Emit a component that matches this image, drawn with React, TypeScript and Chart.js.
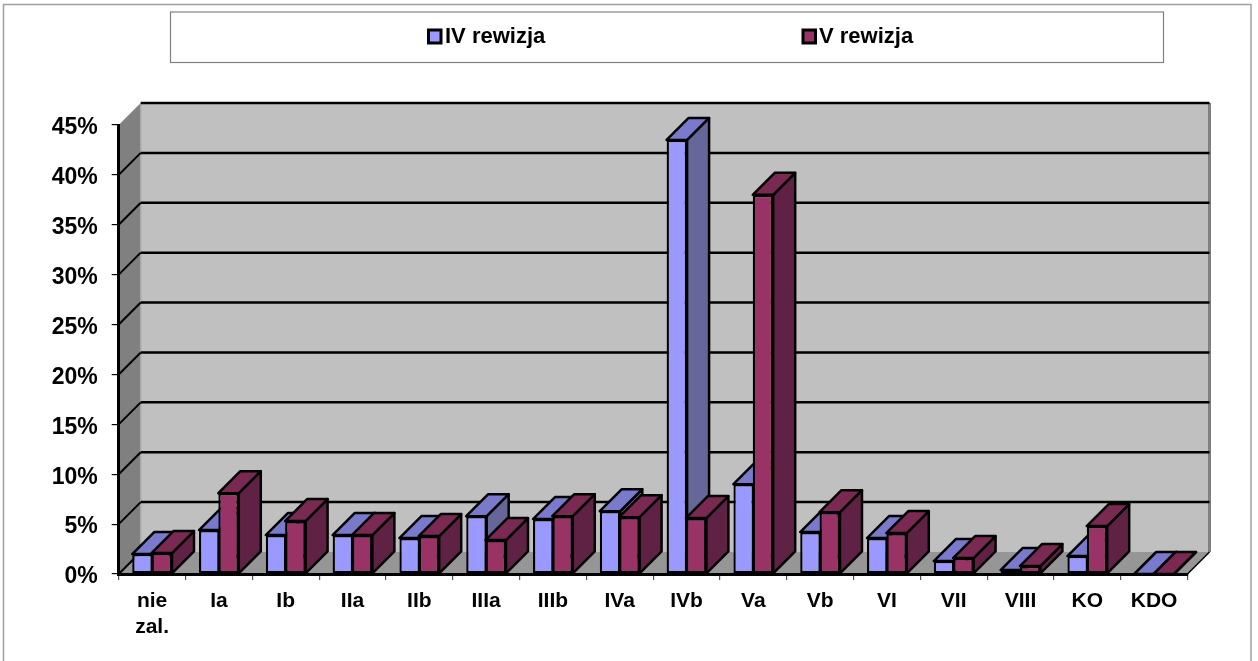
import React, { useEffect, useRef } from "react";
import { Chart, registerables } from "chart.js";

Chart.register(...registerables);

const categories: (string | string[])[] = [["nie", "zal."], "Ia", "Ib", "IIa", "IIb", "IIIa", "IIIb", "IVa", "IVb", "Va", "Vb", "VI", "VII", "VIII", "KO", "KDO"];
const rewizja4 = [2.0, 4.4, 3.9, 3.9, 3.6, 5.8, 5.5, 6.3, 43.5, 9.0, 4.2, 3.6, 1.3, 0.4, 1.8, 0];
const rewizja5 = [2.1, 8.1, 5.3, 3.9, 3.8, 3.4, 5.8, 5.7, 5.6, 38.0, 6.2, 4.1, 1.6, 0.8, 4.8, 0];
const seriesNames = ["IV rewizja", "V rewizja"];
const frontColors = ["#9999FF", "#993366"];
const topColors = ["#7A7ACC", "#7A2952"];
const sideColors = ["#666699", "#602244"];

const FONT = "'Liberation Sans', Arial, sans-serif";
const DEPTH = 22;

const poly = (ctx: CanvasRenderingContext2D, pts: number[][], fill: string | null, stroke: string | null, lw = 2.5) => {
  ctx.beginPath();
  pts.forEach((p, i) => (i ? ctx.lineTo(p[0], p[1]) : ctx.moveTo(p[0], p[1])));
  ctx.closePath();
  if (fill) {
    ctx.fillStyle = fill;
    ctx.fill();
  }
  if (stroke) {
    ctx.strokeStyle = stroke;
    ctx.lineWidth = lw;
    ctx.lineJoin = "round";
    ctx.stroke();
  }
};

const line = (ctx: CanvasRenderingContext2D, x1: number, y1: number, x2: number, y2: number, color: string, lw: number) => {
  ctx.beginPath();
  ctx.moveTo(x1, y1);
  ctx.lineTo(x2, y2);
  ctx.strokeStyle = color;
  ctx.lineWidth = lw;
  ctx.stroke();
};

const framePlugin = {
  id: "frame3d",
  beforeDraw(chart: any) {
    const { ctx, width, height } = chart;
    // the value labels sit a little lower than their tick marks
    const items = chart.scales.y.getLabelItems();
    if (!chart.$labelsShifted || chart.$labelItems !== items) {
      items.forEach((it: any) => {
        it.options.translation = [it.options.translation[0], it.options.translation[1] + 3];
      });
      chart.$labelsShifted = true;
      chart.$labelItems = items;
    }
    ctx.save();
    ctx.fillStyle = "#ffffff";
    ctx.fillRect(0, 0, width, height);
    // outer frame
    ctx.beginPath();
    ctx.moveTo(3.5, height);
    ctx.lineTo(3.5, 4.5);
    ctx.lineTo(1251, 4.5);
    ctx.lineTo(1251, height);
    ctx.strokeStyle = "#a0a0a0";
    ctx.lineWidth = 1.5;
    ctx.stroke();
    // legend box
    ctx.strokeStyle = "#808080";
    ctx.lineWidth = 1.2;
    ctx.strokeRect(170.5, 12, 993, 50.5);
    // legend entries
    const markerX = [428.5, 803];
    const textX = [445, 819];
    chart.data.datasets.forEach((ds: any, i: number) => {
      ctx.fillStyle = ds.backgroundColor;
      ctx.fillRect(markerX[i], 30, 12.5, 13);
      ctx.strokeStyle = "#000000";
      ctx.lineWidth = 3;
      ctx.strokeRect(markerX[i], 30, 12.5, 13);
      ctx.fillStyle = "#000000";
      ctx.font = `bold 22px ${FONT}`;
      ctx.textAlign = "left";
      ctx.textBaseline = "middle";
      ctx.fillText(ds.label, textX[i], 37);
    });
    ctx.restore();
  },
  beforeDatasetsDraw(chart: any) {
    const { ctx, chartArea: a, scales } = chart;
    const y = scales.y;
    const backL = a.left + DEPTH;
    const backR = a.right + DEPTH;
    const backT = a.top - DEPTH;
    const backB = a.bottom - DEPTH;
    ctx.save();
    poly(ctx, [[backL, backT], [backR, backT], [backR, backB], [backL, backB]], "#C0C0C0", null);
    poly(ctx, [[a.left, a.top], [backL, backT], [backL, backB], [a.left, a.bottom]], "#808080", null);
    poly(ctx, [[a.left, a.bottom], [backL, backB], [backR, backB], [a.right, a.bottom]], "#969696", null);
    line(ctx, backR, backT, backR, backB, "#808080", 3);
    line(ctx, backL, backT, backL, backB, "#a8a8a8", 1.5);
    (y.ticks as any[]).forEach((t) => {
      const py = y.getPixelForValue(t.value);
      if (t.value > 0 && t.value < 45) {
        line(ctx, a.left, py, backL, py - DEPTH, "#000000", 2);
        line(ctx, backL, py - DEPTH, backR, py - DEPTH, "#000000", 2.5);
      }
    });
    line(ctx, backL, backT, backR, backT, "#000000", 2.5);
    line(ctx, a.left, a.bottom, backL, backB, "#000000", 2);
    line(ctx, a.right, a.bottom, backR, backB, "#000000", 1.5);
    ctx.restore();
  },
  beforeDatasetDraw() {
    // bars are painted together afterwards, first series behind the second
    return false;
  },
  afterDatasetsDraw(chart: any) {
    const { ctx } = chart;
    ctx.save();
    chart.data.datasets.forEach((_: any, di: number) => {
      const meta = chart.getDatasetMeta(di);
      meta.data.forEach((el: any) => {
        const { x, y, width, base } = el.getProps(["x", "y", "width", "base"], true);
        const l = x - width / 2;
        const r = x + width / 2;
        poly(ctx, [[r, y], [r + DEPTH, y - DEPTH], [r + DEPTH, base - DEPTH], [r, base]], sideColors[di], "#000000");
        poly(ctx, [[l, y], [l + DEPTH, y - DEPTH], [r + DEPTH, y - DEPTH], [r, y]], topColors[di], "#000000");
        el.draw(ctx, chart.chartArea);
      });
    });
    ctx.restore();
  },
};

export default function App() {
  const ref = useRef<HTMLCanvasElement>(null);
  useEffect(() => {
    const chart = new Chart(ref.current as HTMLCanvasElement, {
      type: "bar",
      data: {
        labels: categories as any,
        datasets: [
          { label: seriesNames[0], data: rewizja4, backgroundColor: frontColors[0] },
          { label: seriesNames[1], data: rewizja5, backgroundColor: frontColors[1] },
        ],
      },
      plugins: [framePlugin as any],
      options: {
        responsive: false,
        animation: false,
        layout: { padding: { left: 18.7, right: 70.5, top: 125, bottom: 27 } },
        datasets: {
          bar: {
            barPercentage: 1.06,
            categoryPercentage: 0.578,
            borderColor: "#000000",
            borderWidth: 2.3,
            borderSkipped: false,
          },
        },
        plugins: { legend: { display: false }, title: { display: false }, tooltip: { enabled: false } },
        scales: {
          x: {
            afterFit: (s: any) => {
              s.height = 60;
            },
            grid: { drawOnChartArea: false, drawTicks: true, tickLength: 6, color: "#555555", lineWidth: 1.2, offset: true },
            border: { color: "#000000", width: 3, z: 1 },
            ticks: {
              color: "#000000",
              font: { family: FONT, size: 21, weight: "bold", lineHeight: 1.2 },
              padding: 9,
              autoSkip: false,
              maxRotation: 0,
              minRotation: 0,
            },
          },
          y: {
            min: 0,
            max: 45,
            afterFit: (s: any) => {
              s.width = 100;
            },
            grid: { drawOnChartArea: false, drawTicks: true, tickLength: 7, color: "#000000", lineWidth: 1.2 },
            border: { color: "#000000", width: 3, z: 1 },
            ticks: {
              stepSize: 5,
              color: "#000000",
              font: { family: FONT, size: 23, weight: "bold" },
              padding: 14,
              callback: (v: any) => `${v}%`,
            },
          },
        },
      },
    });
    return () => chart.destroy();
  }, []);
  return (
    <div style={{ position: "absolute", left: 0, top: 0, width: 1258, height: 661, overflow: "hidden", background: "#fff" }}>
      <canvas ref={ref} width={1258} height={661} style={{ display: "block" }} />
    </div>
  );
}
